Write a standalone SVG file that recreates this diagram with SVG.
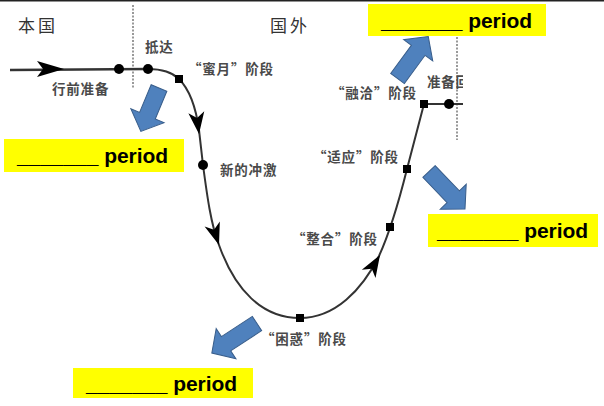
<svg xmlns="http://www.w3.org/2000/svg" width="604" height="406" viewBox="0 0 604 406">
<style>
.lbl{font-family:"Noto Sans CJK SC","Noto Sans",sans-serif;font-size:13.5px;font-weight:bold;fill:#4a4a4a;letter-spacing:0.8px}
.big{font-family:"Noto Sans CJK SC","Noto Sans",sans-serif;font-size:17px;fill:#333;letter-spacing:3px}
.box{fill:#ffff00}
.bt{font-family:"Liberation Sans",Arial,sans-serif;font-size:21px;font-weight:bold;fill:#000}
.blue{fill:#4f81bd;stroke:#385d8a;stroke-width:1}
.curve{fill:none;stroke:#333;stroke-width:2}
.vdot{stroke:#999;stroke-width:2;stroke-dasharray:2 1.5}
.sq{fill:#000}
.dot{fill:#000}
.ah{fill:#000}
</style>
<defs>
<clipPath id="cut"><rect x="0" y="0" width="463" height="406"/></clipPath>
</defs>
<rect x="0" y="0" width="604" height="1.5" fill="#222"/>
<g id="regions">
<text class="big" x="18" y="32">本国</text>
<text class="big" x="270" y="32">国外</text>
</g>
<g id="dividers">
<line class="vdot" x1="133" y1="5" x2="133" y2="88"/>
<line class="vdot" x1="457" y1="37" x2="457" y2="140"/>
</g>
<g id="connectors">
<line x1="10" y1="70" x2="148" y2="69" stroke="#333" stroke-width="2.5"/>
<path class="curve" clip-path="url(#cut)" d="M148,69 C162,69 172,72 179,79 C190,90 196,108 199,130 L203,165 C207,195 211,225 219,245 C235,290 262,318 300,318 C335,318 362,290 379,256 C390,232 398,205 407,169 L424,104 L470,104"/>
<path class="ah" transform="translate(64,69)" d="M0,0 L-27,-8 L-21,0 L-27,8 Z"/>
<path class="ah" transform="translate(199,134) rotate(83)" d="M0,0 L-22,-8 L-16,0 L-22,8 Z"/>
<path class="ah" transform="translate(219,245) rotate(72)" d="M0,0 L-22,-8 L-16,0 L-22,8 Z"/>
<path class="ah" transform="translate(380,255) rotate(-59)" d="M0,0 L-22,-8 L-16,0 L-22,8 Z"/>
</g>
<g id="n-prep"><circle class="dot" cx="119" cy="69" r="5"/><text class="lbl" x="52" y="94">行前准备</text></g>
<g id="n-arrive"><circle class="dot" cx="148" cy="69" r="5"/><text class="lbl" x="145" y="52">抵达</text></g>
<g id="n-honeymoon"><rect class="sq" x="175" y="75" width="8" height="8"/><text class="lbl" x="188" y="74">“蜜月”阶段</text></g>
<g id="n-shock"><circle class="dot" cx="203" cy="165" r="5"/><text class="lbl" x="220" y="175">新的冲激</text></g>
<g id="n-confuse"><rect class="sq" x="296" y="314" width="8" height="8"/><text class="lbl" x="261" y="344">“困惑”阶段</text></g>
<g id="n-integrate"><rect class="sq" x="386" y="223" width="8" height="8"/><text class="lbl" x="292" y="244">“整合”阶段</text></g>
<g id="n-adapt"><rect class="sq" x="403" y="165" width="8" height="8"/><text class="lbl" x="313" y="162">“适应”阶段</text></g>
<g id="n-harmony"><rect class="sq" x="420" y="100" width="8" height="8"/><text class="lbl" x="331" y="98">“融洽”阶段</text></g>
<g id="n-return"><circle class="dot" cx="449" cy="104" r="5"/><text class="lbl" x="427" y="87" clip-path="url(#cut)">准备回</text></g>
<g id="a1"><path class="blue" transform="translate(159,88) rotate(112.7)" d="M0,-8.5 H30 V-18 L47,0 L30,18 V8.5 H0 Z"/></g>
<g id="a2"><path class="blue" transform="translate(397.5,78.5) rotate(-53.7)" d="M0,-8.5 H35 V-18 L52,0 L35,18 V8.5 H0 Z"/></g>
<g id="a3"><path class="blue" transform="translate(429,171.5) rotate(46.2)" d="M0,-8.5 H35 V-18 L52,0 L35,18 V8.5 H0 Z"/></g>
<g id="a4"><path class="blue" transform="translate(257,323.5) rotate(146.8)" d="M0,-8.5 H37 V-18 L54,0 L37,18 V8.5 H0 Z"/></g>
<g id="box-top"><rect class="box" x="368" y="4" width="178" height="32"/><text class="bt" x="381" y="28" textLength="151">_______ period</text></g>
<g id="box-left"><rect class="box" x="4" y="139" width="180" height="33"/><text class="bt" x="17" y="163" textLength="151">_______ period</text></g>
<g id="box-right"><rect class="box" x="428" y="214" width="170" height="33"/><text class="bt" x="437" y="238" textLength="151">_______ period</text></g>
<g id="box-bottom"><rect class="box" x="73" y="368" width="180" height="30"/><text class="bt" x="86" y="391" textLength="151">_______ period</text></g>
</svg>
